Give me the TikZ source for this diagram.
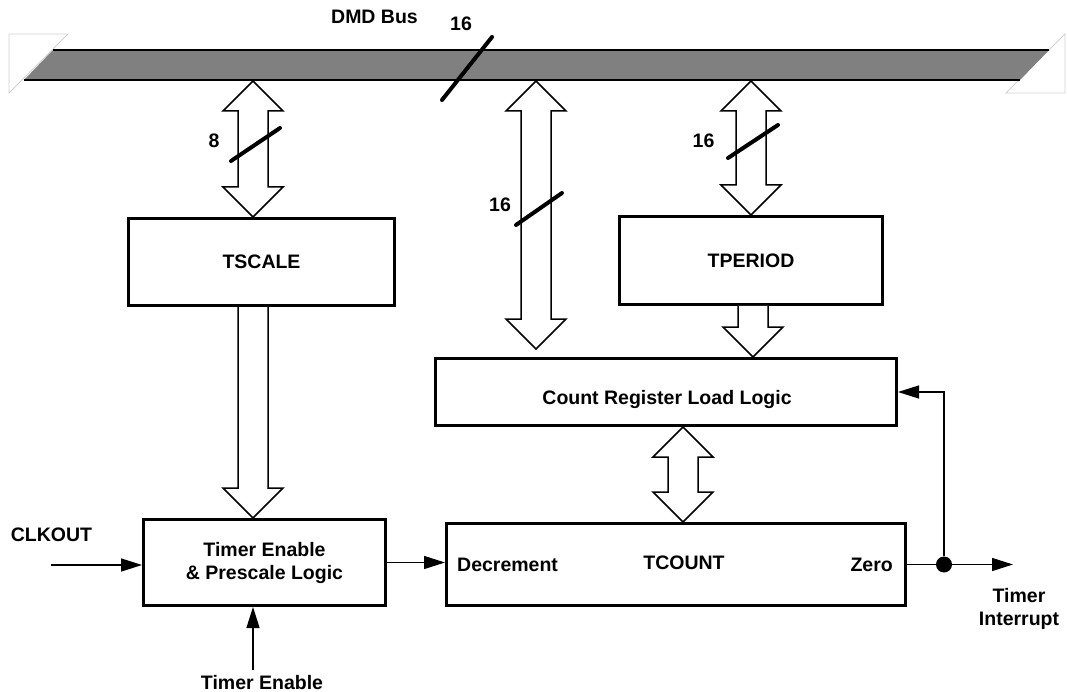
\documentclass[tikz,border=0pt]{standalone}
\usepackage{fontspec}
\setmainfont{Liberation Sans}
\usetikzlibrary{arrows.meta,calc,positioning}
\tikzset{
  TextStyle/.style = { font = \fontsize{19.5}{23}\selectfont\bfseries, inner sep=0pt, align=center },
  BoxStyle/.style = { TextStyle, draw, line width=3pt, fill=white },
  WireStyle/.style = { line width=1.4pt, -{Triangle[length=21pt,width=13pt]} },
  BusArrowStyle/.style = { draw, fill=white, line width=1.5pt, line join=miter },
  SlashStyle/.style = { line width=4pt, line cap=round } }
\newcommand{\BiBus}[2]{%
  \path[BusArrowStyle] let \p1=(#1), \p2=(#2) in
    (\x1,\y1) -- (\x1+30pt,\y1-30pt) -- (\x1+15pt,\y1-30pt) -- (\x1+15pt,\y2+30pt)
    -- (\x1+30pt,\y2+30pt) -- (\x1,\y2) -- (\x1-30pt,\y2+30pt) -- (\x1-15pt,\y2+30pt)
    -- (\x1-15pt,\y1-30pt) -- (\x1-30pt,\y1-30pt) -- cycle;}
\newcommand{\DownBus}[2]{%
  \path[BusArrowStyle] let \p1=(#1), \p2=(#2) in
    (\x1-15pt,\y1) -- (\x1-15pt,\y2+30pt) -- (\x1-30pt,\y2+30pt) -- (\x1,\y2)
    -- (\x1+30pt,\y2+30pt) -- (\x1+15pt,\y2+30pt) -- (\x1+15pt,\y1);}
\begin{document}
\begin{tikzpicture}[x=1pt,y=-1pt]
  \useasboundingbox (0,0) rectangle (1067,692);
  \draw[gray!35, line width=0.8pt] (9,34) -- (68,34) -- (9,93) -- cycle;
  \draw[gray!35, line width=0.8pt] (1065,34) -- (1065,93) -- (1006,93) -- cycle;
  \fill[black!50] (24,80) -- (53,50) -- (1049,50) -- (1020,80) -- cycle;
  \draw[line width=2pt] (53,50) -- (1049,50);
  \draw[line width=2pt] (24,80) -- (1020,80);
  \coordinate (BusS) at (0,81);
  \node[TextStyle] (BusName) at (374.5,17) {DMD Bus};
  \node[TextStyle] (BusWidth) at (461,24) {16};
  \draw[SlashStyle] (442,100) -- (492,37);

  \node[BoxStyle, minimum width=266, minimum height=87] (TScale) at (261.5,262) {TSCALE};
  \node[BoxStyle, minimum width=263, minimum height=88] (TPeriod) at (751,260.5) {TPERIOD};
  \node[BoxStyle, minimum width=461, minimum height=67] (LoadLogic) at (666,392) {};
  \node[TextStyle] (LoadName) at (667,399) {Count Register Load Logic};
  \node[BoxStyle, minimum width=459, minimum height=82] (TCount) at (676,564.5) {};
  \node[TextStyle] (TCountName) at (684,563) {TCOUNT};
  \node[TextStyle, right=12pt of TCount.west] (Dec) {Decrement};
  \node[TextStyle, left=14pt of TCount.east] (ZeroFlag) {Zero};
  \node[BoxStyle, minimum width=242, minimum height=86] (Prescale) at (264.5,562.5) {Timer Enable\\\& Prescale Logic};

  \coordinate (MidEnd) at (536,349);
  \BiBus{253,0 |- BusS}{253,0 |- TScale.north}
  \BiBus{536,0 |- BusS}{MidEnd}
  \BiBus{751,0 |- BusS}{751,0 |- TPeriod.north}
  \BiBus{683,0 |- LoadLogic.south}{683,0 |- TCount.north}
  \DownBus{253,0 |- TScale.south}{253,0 |- Prescale.north}
  \DownBus{753,0 |- TPeriod.south}{753,0 |- LoadLogic.north}

  \draw[SlashStyle] (231,161) -- (280,128);
  \node[TextStyle] (Width8) at (214,141) {8};
  \draw[SlashStyle] (516,225) -- (562,193);
  \node[TextStyle] (WidthMid) at (500,205) {16};
  \draw[SlashStyle] (728,158) -- (778,125);
  \node[TextStyle] (WidthPer) at (703.5,141) {16};

  \coordinate (ClkIn) at (51,565);
  \node[TextStyle] (ClkName) at (51.5,535) {CLKOUT};
  \draw[WireStyle] (ClkIn) -- (ClkIn -| Prescale.west);
  \draw[WireStyle] (Prescale.east) -- (Prescale.east -| TCount.west);
  \coordinate (EnIn) at (253,670);
  \draw[WireStyle] (EnIn) -- (EnIn |- Prescale.south);
  \node[TextStyle] (EnName) at (262,683) {Timer Enable};

  \node[circle, fill, inner sep=0pt, minimum size=16pt] (Tap) at (944,564.5) {};
  \coordinate (IntOut) at (1013,564.5);
  \draw[line width=1.4pt] (TCount.east) -- (Tap);
  \draw[WireStyle] (Tap) -- (IntOut);
  \draw[WireStyle] (Tap) |- (LoadLogic.east);
  \node[TextStyle] (IntName) at (1019,608.5) {Timer\\Interrupt};
\end{tikzpicture}
\end{document}
